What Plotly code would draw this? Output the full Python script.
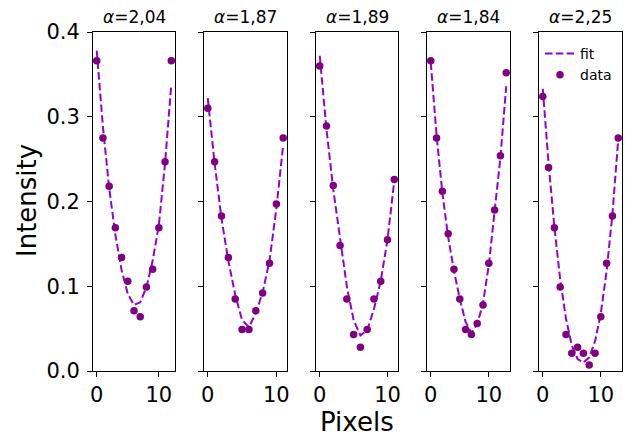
import plotly.graph_objects as go

W, H = 625, 438

alphas = ["2,04", "1,87", "1,89", "1,84", "2,25"]

data1 = [0.366, 0.275, 0.218, 0.169, 0.134, 0.106, 0.071, 0.064, 0.099, 0.120, 0.169, 0.247, 0.366]
fit1 = [0.378, 0.288, 0.216, 0.161, 0.119, 0.091, 0.078, 0.081, 0.099, 0.130, 0.172, 0.245, 0.338]

data2 = [0.310, 0.247, 0.183, 0.134, 0.085, 0.049, 0.049, 0.071, 0.092, 0.127, 0.197, 0.275]
fit2 = [0.322, 0.245, 0.180, 0.130, 0.090, 0.060, 0.052, 0.068, 0.093, 0.130, 0.192, 0.267]

data3 = [0.360, 0.289, 0.219, 0.148, 0.085, 0.043, 0.028, 0.049, 0.085, 0.106, 0.155, 0.226]
fit3 = [0.372, 0.285, 0.214, 0.155, 0.100, 0.060, 0.042, 0.048, 0.073, 0.106, 0.155, 0.224]

data4 = [0.366, 0.275, 0.212, 0.162, 0.120, 0.085, 0.049, 0.043, 0.056, 0.078, 0.127, 0.190, 0.254, 0.352]
fit4 = [0.364, 0.278, 0.210, 0.158, 0.118, 0.085, 0.058, 0.045, 0.055, 0.080, 0.125, 0.185, 0.252, 0.336]

data5 = [0.324, 0.240, 0.169, 0.099, 0.043, 0.021, 0.028, 0.021, 0.007, 0.021, 0.064, 0.127, 0.183, 0.275]
fit5 = [0.333, 0.245, 0.170, 0.108, 0.062, 0.030, 0.014, 0.010, 0.016, 0.035, 0.068, 0.118, 0.185, 0.273]

datas = [data1, data2, data3, data4, data5]
fits = [fit1, fit2, fit3, fit4, fit5]

FONT = "DejaVu Sans"
panel_px = [(93, 175), (204, 287), (316, 398), (427, 510), (539, 622)]
y_top, y_bot = 32, 371
ydom = [1 - y_bot / H, 1 - y_top / H]

fig = go.Figure()
layout = {}
annotations = []
for i, (d, f) in enumerate(zip(datas, fits)):
    n = len(d)
    xs = list(range(n))
    ax = "" if i == 0 else str(i + 1)
    fig.add_trace(go.Scatter(x=xs, y=f, mode="lines", name="fit",
                             line=dict(color="#9400D3", width=2, dash="7.5px,3.3px"),
                             xaxis="x" + ax, yaxis="y" + ax, showlegend=(i == 4)))
    fig.add_trace(go.Scatter(x=xs, y=d, mode="markers", name="data",
                             marker=dict(color="#800080", size=7.5),
                             xaxis="x" + ax, yaxis="y" + ax, showlegend=(i == 4)))
    x0, x1 = panel_px[i]
    pad = 0.05 * (n - 1)
    layout["xaxis" + ax] = dict(
        domain=[x0 / W, x1 / W], range=[-pad, n - 1 + pad], anchor="y" + ax,
        tickvals=[0, 10], ticks="outside", ticklen=5, tickcolor="black",
        showline=True, linecolor="black", linewidth=1, mirror=True,
        showgrid=False, zeroline=False, ticklabelstandoff=0, automargin=False,
        tickfont=dict(family=FONT, size=21, color="black"))
    layout["yaxis" + ax] = dict(
        domain=ydom, range=[0, 0.4], anchor="x" + ax,
        tickvals=[0, 0.1, 0.2, 0.3, 0.4], tickformat=".1f",
        showticklabels=(i == 0), ticks="outside", ticklen=5, tickcolor="black",
        showline=True, linecolor="black", linewidth=1, mirror=True,
        showgrid=False, zeroline=False, ticklabelstandoff=3, automargin=False,
        tickfont=dict(family=FONT, size=21, color="black"))
    annotations.append(dict(
        text="<i>α</i>=" + alphas[i], x=(x0 + x1) / 2 / W, y=1 - 17 / H,
        xref="paper", yref="paper", xanchor="center", yanchor="middle",
        showarrow=False, font=dict(family=FONT, size=17, color="black")))

annotations.append(dict(text="Intensity", x=27 / W, y=1 - 201 / H, xref="paper", yref="paper",
                        xanchor="center", yanchor="middle", textangle=-90, showarrow=False,
                        font=dict(family=FONT, size=26, color="black")))
annotations.append(dict(text="Pixels", x=357 / W, y=1 - 422 / H, xref="paper", yref="paper",
                        xanchor="center", yanchor="middle", showarrow=False,
                        font=dict(family=FONT, size=26, color="black")))

fig.update_layout(
    width=W, height=H, margin=dict(l=0, r=0, t=0, b=0, autoexpand=False),
    paper_bgcolor="white", plot_bgcolor="white",
    annotations=annotations,
    legend=dict(x=540 / W, y=1 - 38 / H, xanchor="left", yanchor="top",
                bgcolor="rgba(255,255,255,0)", font=dict(family=FONT, size=14, color="black"),
                itemwidth=30, tracegroupgap=0),
    **layout)

fig.write_html("out.html")
